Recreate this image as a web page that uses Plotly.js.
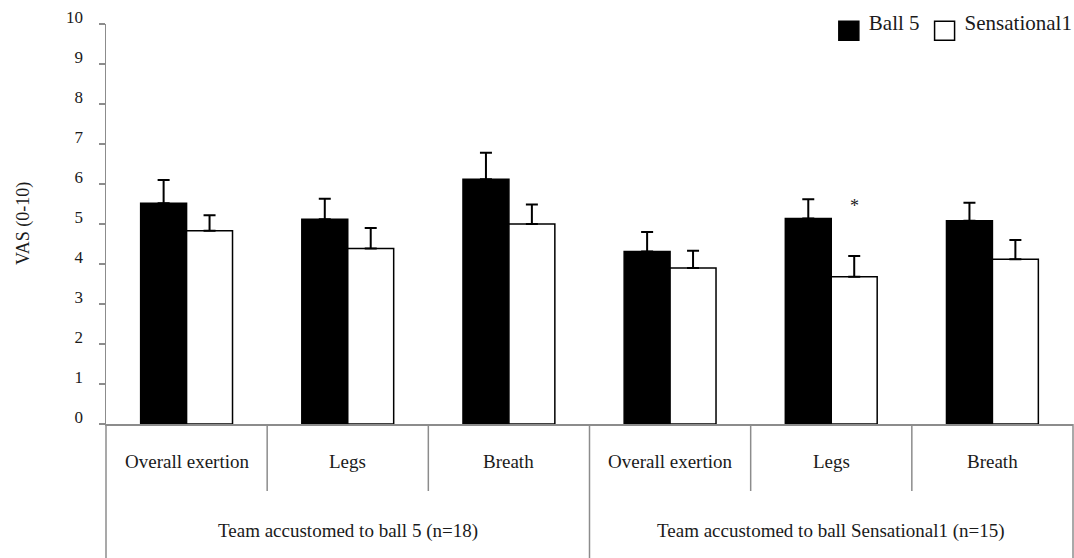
<!DOCTYPE html>
<html>
<head>
<meta charset="utf-8">
<script src="https://cdn.plot.ly/plotly-3.0.1.min.js"></script>
<style>
  html, body { margin: 0; padding: 0; background: #fff; }
  #chart { width: 1074px; height: 558px; }
</style>
</head>
<body>
<div id="chart"></div>
<script>
// ---- data ----
const outerLabels = [
  'Team accustomed to ball 5 (n=18)', 'Team accustomed to ball 5 (n=18)', 'Team accustomed to ball 5 (n=18)',
  'Team accustomed to ball Sensational1 (n=15)', 'Team accustomed to ball Sensational1 (n=15)', 'Team accustomed to ball Sensational1 (n=15)'
];
const innerLabels = ['Overall exertion', 'Legs', 'Breath', 'Overall exertion', 'Legs', 'Breath'];
const seriesNames = ['Ball 5', 'Sensational1'];
const ball5Mean = [5.52, 5.12, 6.12, 4.31, 5.14, 5.08];
const ball5Err  = [0.58, 0.51, 0.66, 0.49, 0.48, 0.45];
const sensMean  = [4.83, 4.39, 5.00, 3.90, 3.68, 4.12];
const sensErr   = [0.39, 0.51, 0.49, 0.43, 0.52, 0.48];
const sigMarks  = ['', '', '', '', '*', ''];
const sigLevel  = 5.45;
const yTitle = 'VAS (0-10)';

// ---- style ----
const FONT = 'Liberation Serif, Times New Roman, serif';
const AXIS_COLOR = '#8c8c8c';
const TEXT_COLOR = '#1a1a1a';
const BARGAP = 0.43;

const zeros = ball5Mean.map(() => 0);
const xCats = [outerLabels, innerLabels];

const traces = [
  {
    type: 'bar', name: seriesNames[0], x: xCats, y: ball5Mean,
    marker: { color: '#000000', line: { color: '#000000', width: 1.5 } },
    error_y: { type: 'data', symmetric: false, array: ball5Err, arrayminus: zeros,
               color: '#000000', thickness: 2, width: 6 },
    hoverinfo: 'y+name'
  },
  {
    type: 'bar', name: seriesNames[1], x: xCats, y: sensMean,
    marker: { color: '#ffffff', line: { color: '#000000', width: 1.5 } },
    error_y: { type: 'data', symmetric: false, array: sensErr, arrayminus: zeros,
               color: '#000000', thickness: 2, width: 6 },
    hoverinfo: 'y+name'
  }
];

const nCats = innerLabels.length;
const shapes = [];
const annotations = [];

// dividers below the category axis (boundaries between categories)
for (let k = 0; k <= nCats; k++) {
  const isOuter = (k === 0 || k === nCats || outerLabels[k] !== outerLabels[k - 1]);
  shapes.push({
    type: 'line', xref: 'paper', yref: 'paper', ysizemode: 'pixel', yanchor: 0,
    x0: k / nCats, x1: k / nCats, y0: 0, y1: isOuter ? -134 : -67,
    line: { color: AXIS_COLOR, width: 1.5 }
  });
}

// inner category labels
innerLabels.forEach((lab, i) => {
  annotations.push({
    xref: 'paper', yref: 'paper', x: (i + 0.5) / nCats, y: 0, yshift: -37,
    xanchor: 'center', yanchor: 'middle', showarrow: false, text: lab,
    font: { family: FONT, size: 19, color: TEXT_COLOR }
  });
});

// outer group labels
const groupNames = [...new Set(outerLabels)];
groupNames.forEach(g => {
  const idx = outerLabels.map((o, i) => o === g ? i : -1).filter(i => i >= 0);
  const c = (idx[0] + idx[idx.length - 1] + 1) / 2;
  annotations.push({
    xref: 'paper', yref: 'paper', x: c / nCats, y: 0, yshift: -107,
    xanchor: 'center', yanchor: 'middle', showarrow: false, text: g,
    font: { family: FONT, size: 19, color: TEXT_COLOR }
  });
});

// significance markers over second series bar
const barW = (1 - BARGAP) / 2;
sigMarks.forEach((m, i) => {
  if (!m) return;
  annotations.push({
    xref: 'paper', yref: 'y', x: (i + 0.5 + barW / 2) / nCats, y: sigLevel,
    xanchor: 'center', yanchor: 'middle', showarrow: false, text: m,
    font: { family: FONT, size: 18, color: TEXT_COLOR }
  });
});

// y-axis title
annotations.push({
  xref: 'paper', yref: 'paper', x: 0, xshift: -83, y: 0.5,
  xanchor: 'center', yanchor: 'middle', textangle: -90, showarrow: false,
  text: yTitle, font: { family: FONT, size: 18, color: TEXT_COLOR }
});

const layout = {
  width: 1074, height: 558,
  margin: { l: 106, r: 1, t: 24, b: 134, pad: 0, autoexpand: false },
  paper_bgcolor: '#ffffff', plot_bgcolor: '#ffffff',
  font: { family: FONT, color: TEXT_COLOR },
  barmode: 'group', bargap: BARGAP, bargroupgap: 0,
  showlegend: true,
  legend: {
    orientation: 'h', x: 1.005, xanchor: 'right', y: 1.005, yanchor: 'middle',
    font: { family: FONT, size: 21, color: TEXT_COLOR },
    bgcolor: 'rgba(0,0,0,0)', traceorder: 'normal', itemclick: false
  },
  xaxis: {
    type: 'multicategory', showticklabels: false, ticks: '',
    showline: true, linecolor: AXIS_COLOR, linewidth: 1.5,
    showgrid: false, zeroline: false, showdividers: false, fixedrange: true
  },
  yaxis: {
    range: [0, 10], dtick: 1, tick0: 0,
    ticks: 'outside', ticklen: 6, tickwidth: 1.5, tickcolor: AXIS_COLOR,
    showline: true, linecolor: AXIS_COLOR, linewidth: 1.5,
    showgrid: false, zeroline: false, fixedrange: true,
    tickfont: { family: FONT, size: 17, color: TEXT_COLOR },
    ticklabelstandoff: 12, ticklabelshift: -7
  },
  shapes: shapes,
  annotations: annotations
};

Plotly.newPlot('chart', traces, layout, { displayModeBar: false, staticPlot: true }).then(() => {
  document.querySelectorAll('#chart .legend .legendpoints path').forEach(p => {
    p.setAttribute('d', 'M10,18.5H-10V-0.5H10Z');
  });
});
</script>
</body>
</html>
